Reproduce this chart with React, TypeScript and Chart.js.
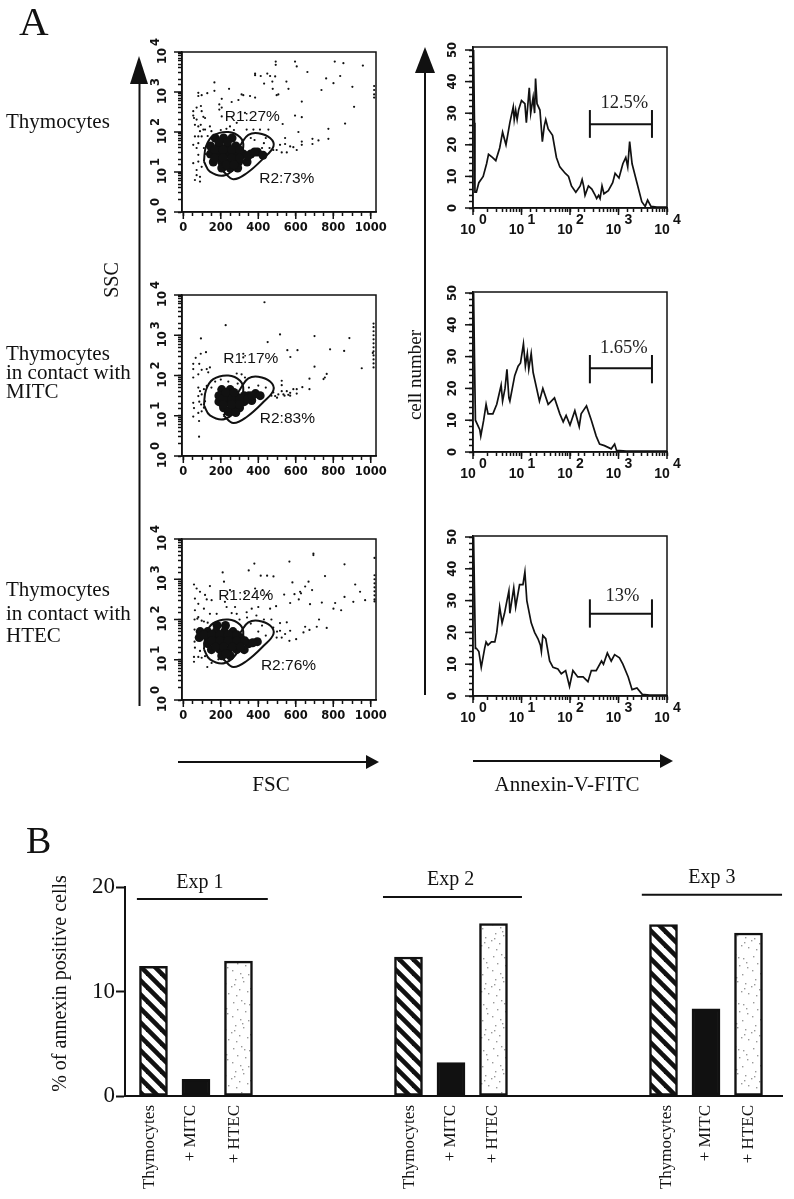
import React, { useEffect, useRef } from "react";
import { Chart, registerables } from "chart.js";

Chart.register(...registerables);

// ---------- DATA ----------
// Scatter dots: [FSC channel, log10(SSC)]
const thymocyteDots: number[][] = [
  [493,3.76],[493,3.68],[596,3.76],[605,3.64],[662,3.5],[808,3.76],[854,3.72],[958,3.66],[383,3.46],[383,3.42],[413,3.4],[448,3.46],[463,3.4],[431,3.21],[475,3.26],[490,3.39],[477,3.08],[550,3.26],[561,3.08],[507,2.94],[498,2.92],[762,3.34],[837,3.4],[801,3.22],[737,3.05],[902,3.13],[1018,3.15],[1018,3.05],[1018,2.94],[1018,2.86],[911,2.63],[863,2.21],[632,2.76],[596,2.41],[632,2.37],[530,2.2],[614,2.0],[774,2.08],[774,1.83],[689,1.83],[689,1.7],[721,1.79],[632,1.76],[632,1.68],[543,1.85],[543,1.7],[570,1.64],[587,1.62],[605,1.55],[516,1.68],[498,1.55],[525,1.49],[552,1.49],[166,3.24],[244,3.08],[166,3.03],[128,2.97],[80,2.98],[80,2.9],[98,2.92],[205,2.83],[311,2.94],[320,2.92],[356,2.9],[383,2.86],[294,2.8],[258,2.75],[192,2.69],[192,2.56],[53,2.52],[53,2.41],[57,2.35],[71,2.61],[94,2.65],[98,2.52],[107,2.38],[80,2.14],[93,2.18],[116,2.35],[71,2.31],[62,2.18],[89,2.02],[107,2.06],[62,1.89],[80,1.89],[98,1.89],[80,1.72],[53,1.68],[71,1.6],[80,1.43],[53,1.22],[80,1.26],[71,0.92],[62,0.8],[89,0.88],[89,0.76],[71,1.05],[98,1.13],[116,2.06],[142,2.14],[205,2.61],[205,2.39],[249,2.14],[285,2.23],[329,2.48],[374,2.06],[409,2.06],[454,2.06],[338,2.06],[120,1.45],[110,1.6],[130,1.9],[150,2.02],[200,2.05],[230,2.08],[270,2.05],[440,1.85],[430,1.72],[460,1.6],[480,1.55],[420,1.6],[380,1.8],[360,1.85]
];
const mitcDots: number[][] = [
  [433,3.82],[226,3.25],[94,2.92],[450,2.83],[516,3.02],[700,2.98],[886,2.93],[555,2.63],[609,2.63],[571,2.46],[783,2.65],[858,2.61],[700,2.22],[952,2.18],[765,2.04],[748,1.91],[755,1.95],[673,1.92],[673,1.66],[635,1.71],[605,1.66],[605,1.55],[587,1.66],[570,1.57],[552,1.61],[570,1.5],[525,1.87],[525,1.76],[525,1.61],[507,1.53],[534,1.53],[490,1.49],[1015,3.29],[1015,3.2],[1015,3.1],[1015,3.0],[1015,2.9],[1015,2.8],[1015,2.7],[1015,2.6],[1015,2.5],[1015,2.4],[1015,2.3],[1015,2.2],[1011,2.56],[121,2.58],[93,2.54],[66,2.44],[53,2.29],[85,2.29],[53,2.16],[98,2.14],[125,2.16],[142,2.2],[133,2.08],[53,1.95],[80,2.03],[320,2.54],[320,2.45],[80,1.7],[89,1.61],[80,1.49],[98,1.53],[53,1.32],[57,1.19],[53,0.98],[80,1.07],[98,1.11],[84,0.87],[84,0.48],[116,1.36],[110,1.66],[285,2.05],[311,2.03],[329,1.95],[125,1.74],[85,1.35],[95,1.28],[110,1.2],[540,1.5],[560,1.52],[470,1.5],[480,1.58],[500,1.45],[170,1.85],[200,1.9],[240,1.85],[290,1.8],[150,1.7],[350,1.7],[400,1.75],[440,1.7]
];
const htecDots: number[][] = [
  [694,3.64],[694,3.6],[566,3.44],[379,3.39],[860,3.37],[349,3.22],[756,3.08],[210,3.17],[413,3.09],[447,3.09],[481,3.07],[217,2.94],[1020,3.53],[582,2.92],[668,2.94],[650,2.82],[623,2.69],[628,2.65],[593,2.63],[538,2.62],[616,2.5],[570,2.41],[687,2.73],[676,2.38],[917,2.87],[943,2.69],[860,2.56],[907,2.44],[970,2.48],[739,2.42],[810,2.41],[801,2.27],[842,2.23],[724,2.0],[765,1.79],[712,1.82],[673,1.74],[650,1.82],[641,1.68],[602,1.51],[566,1.47],[543,1.64],[570,1.72],[516,1.72],[552,1.93],[516,1.91],[525,1.55],[498,1.55],[1020,3.1],[1020,3.0],[1020,2.9],[1020,2.8],[1020,2.7],[1020,2.6],[1020,2.5],[1020,2.45],[57,2.87],[71,2.77],[142,2.83],[89,2.69],[116,2.61],[62,2.52],[80,2.39],[125,2.5],[110,2.27],[62,2.23],[151,2.48],[231,2.31],[222,2.44],[276,2.31],[338,2.18],[365,2.27],[400,2.31],[463,2.27],[495,2.33],[383,2.77],[445,2.61],[423,2.73],[329,2.65],[249,2.73],[285,2.14],[258,2.16],[80,2.06],[98,1.97],[142,2.14],[178,2.14],[57,1.07],[57,0.95],[80,1.07],[98,1.05],[128,0.82],[89,1.22],[116,1.09],[151,0.92],[187,1.01],[62,1.3],[60,2.0],[75,2.02],[110,1.95],[130,1.92],[300,2.0],[340,2.05],[390,2.1],[430,2.0],[470,2.0],[480,1.8],[500,1.7],[60,1.75],[60,1.45],[420,1.85],[440,1.6],[400,1.7],[360,1.9]
];
// Dense core of each cloud: [FSC channel, log10(SSC)]
const thymocyteCore: number[][] = [[170,1.85],[215,1.85],[260,1.85],[145,1.65],[190,1.65],[235,1.65],[280,1.65],[145,1.45],[190,1.45],[235,1.45],[280,1.45],[320,1.45],[160,1.25],[205,1.25],[250,1.25],[295,1.25],[340,1.25],[205,1.1],[250,1.1],[290,1.1],[360,1.45],[395,1.5],[425,1.42],[190,1.75],[235,1.75],[168,1.55],[212,1.55],[258,1.55],[300,1.55],[168,1.35],[212,1.35],[258,1.35],[300,1.35],[230,1.18],[270,1.18],[345,1.4],[380,1.5]];
const mitcCore: number[][] = [[205,1.65],[250,1.65],[190,1.5],[235,1.5],[280,1.5],[325,1.5],[190,1.35],[235,1.35],[280,1.35],[325,1.35],[365,1.38],[215,1.2],[260,1.2],[300,1.2],[240,1.1],[280,1.08],[350,1.5],[385,1.55],[410,1.5],[212,1.42],[258,1.42],[302,1.42],[212,1.28],[258,1.28],[300,1.28],[345,1.42],[228,1.58],[270,1.58],[368,1.5]];
const htecCore: number[][] = [[180,1.85],[225,1.85],[90,1.7],[130,1.7],[175,1.7],[220,1.7],[265,1.7],[85,1.55],[130,1.55],[170,1.55],[215,1.55],[260,1.55],[305,1.55],[130,1.4],[175,1.4],[215,1.4],[260,1.4],[305,1.4],[350,1.4],[150,1.25],[195,1.25],[240,1.25],[285,1.25],[325,1.25],[205,1.1],[250,1.1],[395,1.45],[110,1.62],[152,1.62],[195,1.62],[240,1.62],[285,1.62],[152,1.47],[195,1.47],[240,1.47],[285,1.47],[328,1.47],[172,1.32],[215,1.32],[262,1.32],[305,1.32],[228,1.15],[370,1.42]];
// Gates: [FSC channel, log10(SSC)]
const gateR1: number[][] = [[110,1.26],[121,1.64],[160,1.91],[240,2.0],[303,1.87],[320,1.64],[294,1.22],[222,0.92],[142,1.01],[110,1.26]];
const gateR2: number[][] = [[214,1.01],[267,0.82],[338,0.97],[427,1.34],[481,1.64],[463,1.85],[400,1.97],[347,1.93],[311,1.72],[249,1.22],[214,1.01]];

// Histograms: [log10(Annexin-V-FITC), cell number]
const histThymocytes: number[][] = [[0.012,50],[0.03,27],[0.04,5],[0.07,5],[0.12,8],[0.21,10],[0.28,14],[0.32,17],[0.4,16],[0.47,15],[0.55,19],[0.61,24],[0.68,20],[0.76,27],[0.83,32],[0.85,28],[0.88,31],[0.91,28],[0.94,31],[1.0,34],[1.07,33],[1.1,27],[1.16,38],[1.19,30],[1.24,35],[1.27,30],[1.29,41],[1.32,33],[1.38,31],[1.43,21],[1.47,26],[1.5,28],[1.55,25],[1.64,23],[1.72,16],[1.79,13],[1.9,11],[1.97,10],[2.03,7],[2.12,5],[2.21,7],[2.25,9],[2.28,7],[2.31,4],[2.38,7],[2.45,6],[2.52,4],[2.55,3],[2.59,4],[2.62,3],[2.66,7],[2.7,4.5],[2.79,5.5],[2.88,8],[2.93,11],[3.01,9.5],[3.09,14],[3.15,16],[3.19,13],[3.23,21],[3.28,14],[3.38,8],[3.48,2],[3.55,0.5],[3.6,2.5],[3.67,0.5],[3.79,0.3],[4,0.3]];
const histMitc: number[][] = [[0.012,50],[0.03,30],[0.05,10],[0.06,10],[0.14,7],[0.16,5],[0.22,10],[0.27,15],[0.31,12],[0.41,12],[0.49,15],[0.58,21],[0.61,16],[0.66,20],[0.7,26],[0.74,17],[0.76,16],[0.86,24],[0.93,27],[0.98,28],[1.04,34],[1.08,27],[1.12,31],[1.15,26],[1.2,31],[1.24,25],[1.37,16],[1.44,20],[1.55,15],[1.68,17],[1.79,12],[1.86,9.5],[1.92,11.5],[2.0,8.5],[2.1,13],[2.19,8],[2.23,12],[2.34,14.5],[2.44,10],[2.54,5],[2.61,2.5],[2.71,2],[2.85,1],[2.92,2.5],[2.96,0.5],[3.16,0.3],[4,0.3]];
const histHtec: number[][] = [[0.012,50],[0.03,33],[0.05,15],[0.07,15],[0.12,14],[0.17,9],[0.24,15],[0.27,17],[0.31,16],[0.38,17],[0.45,17],[0.49,20],[0.55,28],[0.6,23],[0.65,26],[0.7,30],[0.74,33],[0.76,26],[0.84,34],[0.88,28],[0.96,35],[1.03,35],[1.07,39],[1.11,30],[1.2,23],[1.27,20],[1.34,18],[1.39,16],[1.41,14],[1.44,19],[1.5,18],[1.58,11],[1.65,9],[1.75,8.5],[1.82,7],[1.91,8],[1.99,3],[2.06,8],[2.16,6],[2.27,6],[2.37,4.5],[2.44,8],[2.54,8],[2.65,11],[2.69,10],[2.77,13.5],[2.85,11],[2.92,13],[3.02,12],[3.09,10],[3.2,6],[3.28,2],[3.38,2.5],[3.49,0.5],[3.64,0.3],[4,0.3]];

const scatterTickValues = [0,50,100,150,200,250,300,350,400,450,500,550,600,650,700,750,800,850,900,950,1000];
const scatterTickLabels = [0,200,400,600,800,1000];
const decadeLabels = [0,1,2,3,4];
const countTickValues = [0,2,4,6,8,10,12,14,16,18,20,22,24,26,28,30,32,34,36,38,40,42,44,46,48,50];
const countTickLabels = [0,10,20,30,40,50];

const barCategories = ["Thymocytes","+ MITC","+ HTEC"];
const experiments = ["Exp 1","Exp 2","Exp 3"];
const experimentSlots = [0,6,12];
const thymocytesPercent = [12.4,13.3,16.4];
const mitcPercent = [1.6,3.2,8.35];
const htecPercent = [12.9,16.5,15.6];
const barLabelSlots = [-0.09,0.87,1.9,6.03,7,7.97,12.06,13,13.99];
const expLineSpans = [[-0.39,2.69,18.85],[5.4,8.67,19.05],[11.49,14.79,19.25]];
const expLabelPositions = [[1.09,20.4],[6.99,20.67],[13.14,20.86]];

const BLACK = "#111";
const SANS = "'DejaVu Sans'";
const SERIF = "'Liberation Serif'";

function drawPower(ctx: CanvasRenderingContext2D, x: number, y: number, rotate: boolean, exp: number, dx: number, dy: number, ex: number, ey: number) {
  ctx.save();
  ctx.translate(x, y);
  if (rotate) ctx.rotate(-Math.PI / 2);
  ctx.textAlign = "center";
  ctx.textBaseline = "middle";
  ctx.fillText("10", dx, dy);
  ctx.fillText(String(exp), ex, ey);
  ctx.restore();
}

function frame(ctx: CanvasRenderingContext2D, chart: any) {
  const a = chart.chartArea;
  ctx.save();
  ctx.strokeStyle = BLACK;
  ctx.lineWidth = 1.5;
  ctx.strokeRect(a.left, a.top, a.right - a.left, a.bottom - a.top);
  ctx.restore();
}

type Geo = { cl: number; ct: number; cw: number; ch: number; left: number; right: number; top: number; bottom: number };

const fitX = (geo: Geo) => (s: any) => { s.height = geo.ct + geo.ch - geo.bottom; s.paddingLeft = 0; s.paddingRight = 0; };
const fitY = (geo: Geo) => (s: any) => { s.width = geo.left - geo.cl; s.paddingTop = 0; s.paddingBottom = 0; };

function ScatterPanel({ geo, dots, core, r1, r2 }: { geo: Geo; dots: number[][]; core: number[][]; r1: (string | number)[]; r2: (string | number)[] }) {
  const ref = useRef<HTMLCanvasElement>(null);
  useEffect(() => {
    const toPt = (p: number[]) => ({ x: p[0], y: Math.pow(10, p[1]) });
    const labelPlugin = {
      id: "scatterLabels",
      afterDraw(chart: any) {
        const ctx = chart.ctx as CanvasRenderingContext2D;
        frame(ctx, chart);
        const a = chart.chartArea;
        const xs = chart.scales.x, ys = chart.scales.y;
        ctx.save();
        ctx.fillStyle = BLACK;
        ctx.strokeStyle = BLACK;
        ctx.lineWidth = 1.5;
        ctx.font = `bold 11.5px ${SANS}`;
        decadeLabels.forEach((d) => {
          const py = ys.getPixelForValue(Math.pow(10, d));
          ctx.beginPath(); ctx.moveTo(a.left - 8, py); ctx.lineTo(a.left, py); ctx.stroke();
          drawPower(ctx, a.left - 19, py, true, d, -4, 0, 10, -7);
        });
        scatterTickLabels.forEach((v) => {
          const px = xs.getPixelForValue(v);
          ctx.beginPath(); ctx.moveTo(px, a.bottom); ctx.lineTo(px, a.bottom + 7); ctx.stroke();
        });
        ctx.font = "15.5px 'Liberation Sans'";
        ctx.textAlign = "center";
        ctx.textBaseline = "middle";
        [r1, r2].forEach((r) => {
          ctx.fillText(String(r[0]), xs.getPixelForValue(r[1] as number), ys.getPixelForValue(Math.pow(10, r[2] as number)));
        });
        ctx.restore();
      },
    };
    const chart = new Chart(ref.current!, {
      type: "scatter",
      data: {
        datasets: [
          { label: "core", data: core.map(toPt), backgroundColor: BLACK, borderWidth: 0, pointRadius: 4.5 },
          { label: "cells", data: dots.map(toPt), backgroundColor: BLACK, borderWidth: 0, pointRadius: 1.1 },
          { label: "R1", data: gateR1.map(toPt), showLine: true, borderColor: BLACK, borderWidth: 2, pointRadius: 0, tension: 0.4 },
          { label: "R2", data: gateR2.map(toPt), showLine: true, borderColor: BLACK, borderWidth: 2, pointRadius: 0, tension: 0.4 },
        ],
      },
      options: {
        animation: false,
        responsive: false,
        layout: { padding: { top: geo.top - geo.ct, right: geo.cl + geo.cw - geo.right, left: 0, bottom: 0 } },
        plugins: { legend: { display: false }, tooltip: { enabled: false } },
        scales: {
          x: {
            type: "linear", min: -7, max: 1028,
            afterBuildTicks: (s: any) => { s.ticks = scatterTickValues.map((value) => ({ value })); },
            afterFit: fitX(geo),
            grid: { display: true, drawOnChartArea: false, drawTicks: true, tickLength: 4, tickWidth: 1.5, tickColor: BLACK },
            border: { display: true, color: BLACK, width: 1.5 },
            ticks: {
              autoSkip: false, maxRotation: 0, minRotation: 0, padding: 5, color: BLACK,
              font: { family: SANS, weight: "bold", size: 11.5 },
              callback: (v: any) => (scatterTickLabels.includes(v) ? String(v) : ""),
            },
          },
          y: {
            type: "logarithmic", min: 1, max: 10000,
            afterFit: fitY(geo),
            grid: { display: true, drawOnChartArea: false, drawTicks: true, tickLength: 4, tickWidth: 1.5, tickColor: BLACK },
            border: { display: true, color: BLACK, width: 1.5 },
            ticks: { display: false },
          },
        },
      } as any,
      plugins: [labelPlugin],
    });
    return () => chart.destroy();
  }, []);
  return <canvas ref={ref} width={geo.cw} height={geo.ch} style={{ position: "absolute", left: geo.cl, top: geo.ct, width: geo.cw, height: geo.ch }} />;
}

function HistPanel({ geo, trace, gateY, capHigh, capLow, label }: { geo: Geo; trace: number[][]; gateY: number; capHigh: number; capLow: number; label: (string | number)[] }) {
  const ref = useRef<HTMLCanvasElement>(null);
  useEffect(() => {
    const gateFrom = Math.pow(10, 2.41), gateTo = Math.pow(10, 3.69);
    const labelPlugin = {
      id: "histLabels",
      afterDraw(chart: any) {
        const ctx = chart.ctx as CanvasRenderingContext2D;
        frame(ctx, chart);
        const a = chart.chartArea;
        const xs = chart.scales.x, ys = chart.scales.y;
        ctx.save();
        ctx.fillStyle = BLACK;
        ctx.strokeStyle = BLACK;
        ctx.lineWidth = 1.5;
        ctx.font = `bold 11.5px ${SANS}`;
        ctx.textAlign = "center";
        ctx.textBaseline = "middle";
        countTickLabels.forEach((v) => {
          const py = ys.getPixelForValue(v);
          ctx.beginPath(); ctx.moveTo(a.left - 8, py); ctx.lineTo(a.left, py); ctx.stroke();
          ctx.save();
          ctx.translate(a.left - 20, py);
          ctx.rotate(-Math.PI / 2);
          ctx.fillText(String(v), 0, 0);
          ctx.restore();
        });
        ctx.font = "bold 14px 'Liberation Sans'";
        decadeLabels.forEach((d) => {
          const px = xs.getPixelForValue(Math.pow(10, d));
          ctx.beginPath(); ctx.moveTo(px, a.bottom); ctx.lineTo(px, a.bottom + 7); ctx.stroke();
          drawPower(ctx, px, a.bottom, false, d, -5, 22, 10, 12);
        });
        ctx.font = `18.5px ${SERIF}`;
        ctx.fillStyle = "#222";
        ctx.fillText(String(label[0]), xs.getPixelForValue(Math.pow(10, label[1] as number)), ys.getPixelForValue(label[2] as number));
        ctx.restore();
      },
    };
    const marker = { showLine: true, borderColor: BLACK, borderWidth: 2, pointRadius: 0 };
    const chart = new Chart(ref.current!, {
      type: "scatter",
      data: {
        datasets: [
          { label: "cell number", data: trace.map((p) => ({ x: Math.pow(10, p[0]), y: p[1] })), showLine: true, borderColor: BLACK, borderWidth: 1.7, pointRadius: 0 },
          { label: "gate", data: [{ x: gateFrom, y: gateY }, { x: gateTo, y: gateY }], ...marker },
          { label: "gate start", data: [{ x: gateFrom, y: capLow }, { x: gateFrom, y: capHigh }], ...marker },
          { label: "gate end", data: [{ x: gateTo, y: capLow }, { x: gateTo, y: capHigh }], ...marker },
        ],
      },
      options: {
        animation: false,
        responsive: false,
        layout: { padding: { top: geo.top - geo.ct, right: geo.cl + geo.cw - geo.right, left: 0, bottom: 0 } },
        plugins: { legend: { display: false }, tooltip: { enabled: false } },
        scales: {
          x: {
            type: "logarithmic", min: 1, max: 10000,
            afterFit: fitX(geo),
            grid: { display: true, drawOnChartArea: false, drawTicks: true, tickLength: 4, tickWidth: 1.5, tickColor: BLACK },
            border: { display: true, color: BLACK, width: 1.5 },
            ticks: { display: false },
          },
          y: {
            type: "linear", min: 0, max: 50 * (geo.bottom - geo.top) / (geo.bottom - geo.top - (geo.top === 47 ? 3 : 1)),
            afterBuildTicks: (s: any) => { s.ticks = countTickValues.map((value) => ({ value })); },
            afterFit: fitY(geo),
            grid: { display: true, drawOnChartArea: false, drawTicks: true, tickLength: 4, tickWidth: 1.5, tickColor: BLACK },
            border: { display: true, color: BLACK, width: 1.5 },
            ticks: { display: false },
          },
        },
      } as any,
      plugins: [labelPlugin],
    });
    return () => chart.destroy();
  }, []);
  return <canvas ref={ref} width={geo.cw} height={geo.ch} style={{ position: "absolute", left: geo.cl, top: geo.ct, width: geo.cw, height: geo.ch }} />;
}

function BarPanel() {
  const ref = useRef<HTMLCanvasElement>(null);
  useEffect(() => {
    const canvas = ref.current!;
    const ctx0 = canvas.getContext("2d")!;
    // hatch
    const h = document.createElement("canvas");
    h.width = 14; h.height = 14;
    const hc = h.getContext("2d")!;
    hc.fillStyle = "#fff"; hc.fillRect(0, 0, 14, 14);
    hc.strokeStyle = BLACK; hc.lineWidth = 4.6;
    [-14, 0, 14].forEach((o) => { hc.beginPath(); hc.moveTo(o - 2, -2); hc.lineTo(o + 16, 16); hc.stroke(); });
    const hatch = ctx0.createPattern(h, "repeat")!;
    // stipple
    const st = document.createElement("canvas");
    st.width = 26; st.height = 46;
    const sc = st.getContext("2d")!;
    sc.fillStyle = "#fff"; sc.fillRect(0, 0, 26, 46);
    sc.fillStyle = "#999";
    [[3,4],[11,2],[19,6],[7,11],[15,13],[23,15],[2,18],[10,21],[18,22],[5,27],[13,29],[21,31],[1,34],[9,37],[17,39],[24,41],[6,43],[14,5],[22,10],[12,25],[20,36],[4,32]].forEach(([x, y]) => sc.fillRect(x, y, 1.4, 1.4));
    const stipple = ctx0.createPattern(st, "repeat")!;

    const barSet = (label: string, offset: number, values: number[], fill: any) => ({
      type: "bar" as const, label,
      data: values.map((y, i) => ({ x: experimentSlots[i] + offset, y })),
      backgroundColor: fill, borderColor: BLACK, borderWidth: 2.5, borderSkipped: false, barThickness: 28, grouped: false,
    });
    const lines = expLineSpans.map((s, i) => ({
      type: "line" as const, label: experiments[i] + " bar",
      data: [{ x: s[0], y: s[2] }, { x: s[1], y: s[2] }],
      borderColor: BLACK, borderWidth: 2, pointRadius: 0,
    }));
    const labelPlugin = {
      id: "expLabels",
      afterDraw(chart: any) {
        const ctx = chart.ctx as CanvasRenderingContext2D;
        ctx.save();
        ctx.fillStyle = BLACK;
        ctx.font = `20px ${SERIF}`;
        ctx.textAlign = "center";
        ctx.textBaseline = "middle";
        experiments.forEach((t, i) => {
          ctx.fillText(t, chart.scales.x.getPixelForValue(expLabelPositions[i][0]), chart.scales.y.getPixelForValue(expLabelPositions[i][1]));
        });
        ctx.translate(12.5, 123.5);
        ctx.rotate(-Math.PI / 2);
        ctx.fillText("% of annexin positive cells", 0, 0);
        ctx.restore();
      },
    };
    const chart = new Chart(canvas, {
      type: "bar",
      data: {
        datasets: [
          barSet("Thymocytes", 0, thymocytesPercent, hatch),
          barSet("+ MITC", 1, mitcPercent, BLACK),
          barSet("+ HTEC", 2, htecPercent, stipple),
          ...lines,
        ],
      },
      options: {
        animation: false,
        responsive: false,
        layout: { padding: { top: 27, right: 11.5, left: 0, bottom: 0 } },
        plugins: { legend: { display: false }, tooltip: { enabled: false } },
        scales: {
          x: {
            type: "linear", min: -0.67, max: 14.8, offset: false,
            afterBuildTicks: (s: any) => { s.ticks = barLabelSlots.map((value) => ({ value })); },
            afterFit: (s: any) => { s.height = 103; s.paddingLeft = 0; s.paddingRight = 0; },
            grid: { display: false, drawTicks: false },
            border: { display: true, color: BLACK, width: 2 },
            ticks: {
              autoSkip: false, minRotation: 90, maxRotation: 90, padding: 9, color: BLACK,
              font: { family: SERIF, size: 17 },
              callback: (_v: any, i: number) => barCategories[i % 3],
            },
          },
          y: {
            min: 0, max: 20,
            afterBuildTicks: (s: any) => { s.ticks = [0, 10, 20].map((value) => ({ value })); },
            afterFit: (s: any) => { s.width = 77; s.paddingTop = 0; s.paddingBottom = 0; },
            grid: { display: true, drawOnChartArea: false, drawTicks: true, tickLength: 9, tickWidth: 2, tickColor: BLACK },
            border: { display: true, color: BLACK, width: 2 },
            ticks: { color: BLACK, padding: 1, font: { family: SERIF, size: 23 } },
          },
        },
      } as any,
      plugins: [labelPlugin],
    });
    return () => chart.destroy();
  }, []);
  return <canvas ref={ref} width={746} height={339} style={{ position: "absolute", left: 48, top: 860, width: 746, height: 339 }} />;
}

const sGeo = (top: number, bottom: number, ct: number): Geo => ({ cl: 148, ct, cw: 240, ch: 210, left: 182, right: 376, top, bottom });
const hGeo = (top: number, bottom: number, ct: number): Geo => ({ cl: 440, ct, cw: 245, ch: 210, left: 473, right: 667, top, bottom });

const rowLabelStyle = { fontFamily: SERIF, fontSize: 21, fill: BLACK } as const;

export default function App() {
  return (
    <div style={{ position: "absolute", left: 0, top: 0, width: 794, height: 1199, overflow: "hidden", background: "#fff" }}>
      <ScatterPanel geo={sGeo(52, 212, 28)} dots={thymocyteDots} core={thymocyteCore} r1={["R1:27%", 368, 2.38]} r2={["R2:73%", 552, 0.82]} />
      <ScatterPanel geo={sGeo(295, 456, 272)} dots={mitcDots} core={mitcCore} r1={["R1:17%", 360, 2.41]} r2={["R2:83%", 555, 0.92]} />
      <ScatterPanel geo={sGeo(539, 700, 516)} dots={htecDots} core={htecCore} r1={["R1:24%", 333, 2.58]} r2={["R2:76%", 561, 0.86]} />
      <HistPanel geo={hGeo(47, 208, 28)} trace={histThymocytes} gateY={26.5} capHigh={31} capLow={22.2} label={["12.5%", 3.12, 33.1]} />
      <HistPanel geo={hGeo(292, 452, 272)} trace={histMitc} gateY={26.3} capHigh={30.5} capLow={21.6} label={["1.65%", 3.11, 32.6]} />
      <HistPanel geo={hGeo(536, 696, 516)} trace={histHtec} gateY={25.9} capHigh={30.4} capLow={21.5} label={["13%", 3.08, 31.4]} />
      <BarPanel />
      <svg width={794} height={1199} style={{ position: "absolute", left: 0, top: 0, pointerEvents: "none" }}>
        <text x={19} y={35} fontFamily={SERIF} fontSize={41} fill={BLACK}>A</text>
        <text x={26} y={853} fontFamily={SERIF} fontSize={38} fill={BLACK}>B</text>
        <text x={6} y={128} {...rowLabelStyle}>Thymocytes</text>
        <text x={6} y={360} {...rowLabelStyle}>Thymocytes</text>
        <text x={6} y={379} {...rowLabelStyle}>in contact with</text>
        <text x={6} y={398} {...rowLabelStyle}>MITC</text>
        <text x={6} y={596} {...rowLabelStyle}>Thymocytes</text>
        <text x={6} y={620} {...rowLabelStyle}>in contact with</text>
        <text x={6} y={642} {...rowLabelStyle}>HTEC</text>
        <text transform="translate(118,280) rotate(-90)" textAnchor="middle" fontFamily={SERIF} fontSize={20} fill={BLACK}>SSC</text>
        <text transform="translate(421,375) rotate(-90)" textAnchor="middle" fontFamily={SERIF} fontSize={19} fill={BLACK}>cell number</text>
        <text x={271} y={791} textAnchor="middle" fontFamily={SERIF} fontSize={21} fill={BLACK}>FSC</text>
        <text x={567} y={791} textAnchor="middle" fontFamily={SERIF} fontSize={21} fill={BLACK}>Annexin-V-FITC</text>
        <line x1={139.5} y1={706} x2={139.5} y2={75} stroke={BLACK} strokeWidth={2} />
        <polygon points="139,56 130,84 148,84" fill={BLACK} />
        <line x1={425} y1={695} x2={425} y2={65} stroke={BLACK} strokeWidth={2} />
        <polygon points="425,47 415,73 435,73" fill={BLACK} />
        <line x1={178} y1={762} x2={370} y2={762} stroke={BLACK} strokeWidth={2} />
        <polygon points="379,762 366,755 366,769" fill={BLACK} />
        <line x1={473} y1={761} x2={664} y2={761} stroke={BLACK} strokeWidth={2} />
        <polygon points="673,761 660,754 660,768" fill={BLACK} />
      </svg>
    </div>
  );
}
